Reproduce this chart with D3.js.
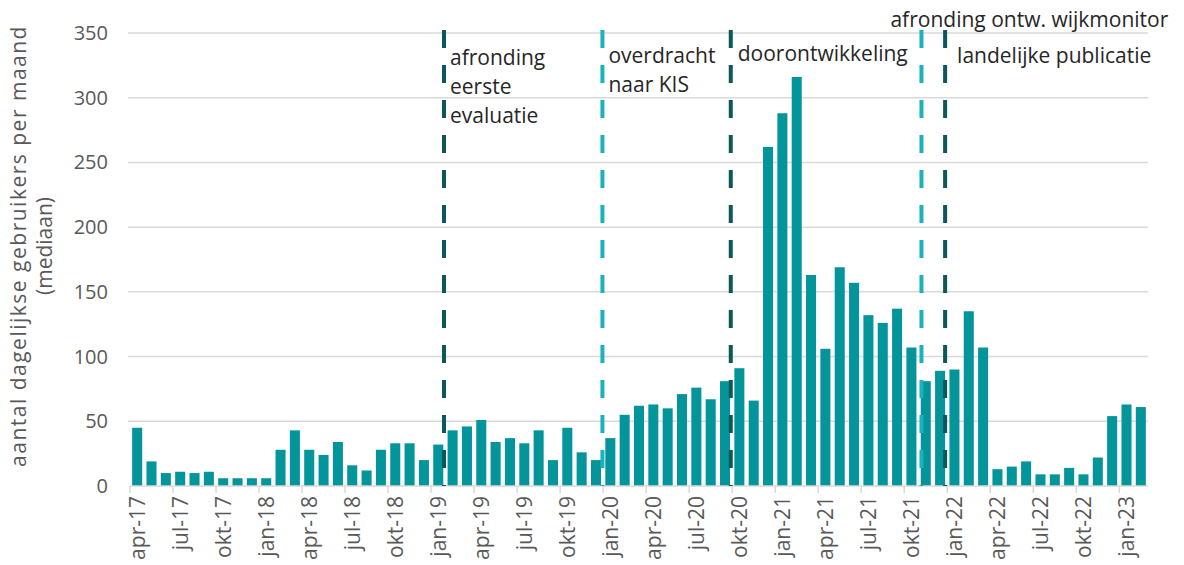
<!DOCTYPE html>
<html>
<head>
<meta charset="utf-8">
<script src="https://cdn.jsdelivr.net/npm/d3@7"></script>
<style>
  body { margin: 0; background: #fff; }
  text { font-family: "Open Sans", sans-serif; }
</style>
</head>
<body>
<script>
'use strict';

// months apr-17 .. feb-23
const monthNames = ["jan", "feb", "mrt", "apr", "mei", "jun", "jul", "aug", "sep", "okt", "nov", "dec"];
const months = [];
for (let yr = 17; yr <= 23; yr++) {
  for (let m = 0; m < 12; m++) {
    if (yr === 17 && m < 3) continue;
    if (yr === 23 && m > 1) continue;
    months.push(monthNames[m] + "-" + yr);
  }
}

// median daily users per month
const users = [
  45, 19, 10, 11, 10, 11, 6, 6, 6,                 // 2017
  6, 28, 43, 28, 24, 34, 16, 12, 28, 33, 33, 20,   // 2018
  32, 43, 46, 51, 34, 37, 33, 43, 20, 45, 26, 20,  // 2019
  37, 55, 62, 63, 60, 71, 76, 67, 81, 91, 66, 262, // 2020
  288, 316, 163, 106, 169, 157, 132, 126, 137, 107, 81, 89, // 2021
  90, 135, 107, 13, 15, 19, 9, 9, 14, 9, 22, 54,   // 2022
  63, 61                                           // 2023
];

const yTicks = [0, 50, 100, 150, 200, 250, 300, 350];

// milestones: position in months from apr-17, label lines, dark or light
const eventPos = [21.9, 32.95, 41.9, 55.2, 56.85];
const eventLabels = [
  ["afronding", "eerste", "evaluatie"],
  ["overdracht", "naar KIS"],
  ["doorontwikkeling"],
  ["afronding ontw. wijkmonitor"],
  ["landelijke publicatie"]
];
const eventDark = [true, false, true, false, true];

(function() {
  const width = 1184, height = 565;
  const left = 130, right = 1148, plotTop = 33, bottom = 486;

  const svg = d3.select("body").append("svg")
    .attr("width", width)
    .attr("height", height);

  const x = d3.scaleBand()
    .domain(months)
    .range([left, right])
    .paddingInner(0.3)
    .paddingOuter(0.15);

  const xPos = d3.scaleLinear()
    .domain([0, months.length])
    .range([left, right]);

  const y = d3.scaleLinear()
    .domain([0, 350])
    .range([bottom, plotTop]);

  // gridlines
  svg.append("g")
    .selectAll("line")
    .data(yTicks.filter(d => d > 0))
    .enter()
    .append("line")
      .attr("x1", left - 2)
      .attr("x2", right)
      .attr("y1", d => y(d))
      .attr("y2", d => y(d))
      .attr("stroke", "#d9d9d9")
      .attr("stroke-width", 1.5);

  // y tick labels
  svg.append("g")
    .selectAll("text")
    .data(yTicks)
    .enter()
    .append("text")
      .attr("x", 108)
      .attr("y", d => y(d))
      .attr("dy", "0.35em")
      .attr("text-anchor", "end")
      .style("font-size", "20px")
      .style("fill", "#595959")
      .text(d => d);

  // bars
  svg.append("g")
    .selectAll("rect")
    .data(users)
    .enter()
    .append("rect")
      .attr("x", (d, i) => x(months[i]))
      .attr("width", x.bandwidth())
      .attr("y", d => y(d))
      .attr("height", d => y(0) - y(d))
      .attr("fill", "#03959a");

  // x axis line and ticks
  svg.append("line")
    .attr("x1", left)
    .attr("x2", right)
    .attr("y1", bottom)
    .attr("y2", bottom)
    .attr("stroke", "#d9d9d9")
    .attr("stroke-width", 1.5);

  const tickIdx = d3.range(0, months.length + 1, 3);
  svg.append("g")
    .selectAll("line")
    .data(tickIdx)
    .enter()
    .append("line")
      .attr("x1", d => xPos(d))
      .attr("x2", d => xPos(d))
      .attr("y1", bottom)
      .attr("y2", bottom + 7)
      .attr("stroke", "#d9d9d9")
      .attr("stroke-width", 1.5);

  svg.append("g")
    .selectAll("text")
    .data(months.filter((m, i) => i % 3 === 0))
    .enter()
    .append("text")
      .attr("transform", d => "translate(" + (x(d) + x.bandwidth() / 2) + "," + (bottom + 10) + ")rotate(-90)")
      .attr("dy", "0.35em")
      .attr("text-anchor", "end")
      .style("font-size", "21px")
      .style("fill", "#595959")
      .text(d => d);

  // milestone lines
  svg.append("g")
    .selectAll("line")
    .data(eventPos)
    .enter()
    .append("line")
      .attr("x1", d => xPos(d))
      .attr("x2", d => xPos(d))
      .attr("y1", 30)
      .attr("y2", bottom)
      .attr("stroke", (d, i) => eventDark[i] ? "#0b575a" : "#1bb3ba")
      .attr("stroke-width", 4)
      .attr("stroke-dasharray", "18,17");

  // milestone labels
  const labelDx = [6, 6, 7, -31, 12];
  const labelY = [65, 63, 61, 27, 63];
  eventLabels.forEach((lines, i) => {
    const t = svg.append("text")
      .attr("x", xPos(eventPos[i]) + labelDx[i])
      .attr("y", labelY[i])
      .style("font-size", "21px")
      .style("fill", "#262626");
    lines.forEach((ln, j) => {
      t.append("tspan")
        .attr("x", xPos(eventPos[i]) + labelDx[i])
        .attr("dy", j === 0 ? 0 : 29)
        .text(ln);
    });
  });

  // y axis title
  const title = svg.append("text")
    .attr("transform", "translate(26, 246)rotate(-90)")
    .attr("text-anchor", "middle")
    .style("font-size", "21px")
    .style("fill", "#595959");
  title.append("tspan").attr("x", 0).attr("dy", 0)
    .style("letter-spacing", "1.5px")
    .text("aantal dagelijkse gebruikers per maand");
  title.append("tspan").attr("x", 0).attr("dy", 26).text("(mediaan)");
})();
</script>
</body>
</html>
